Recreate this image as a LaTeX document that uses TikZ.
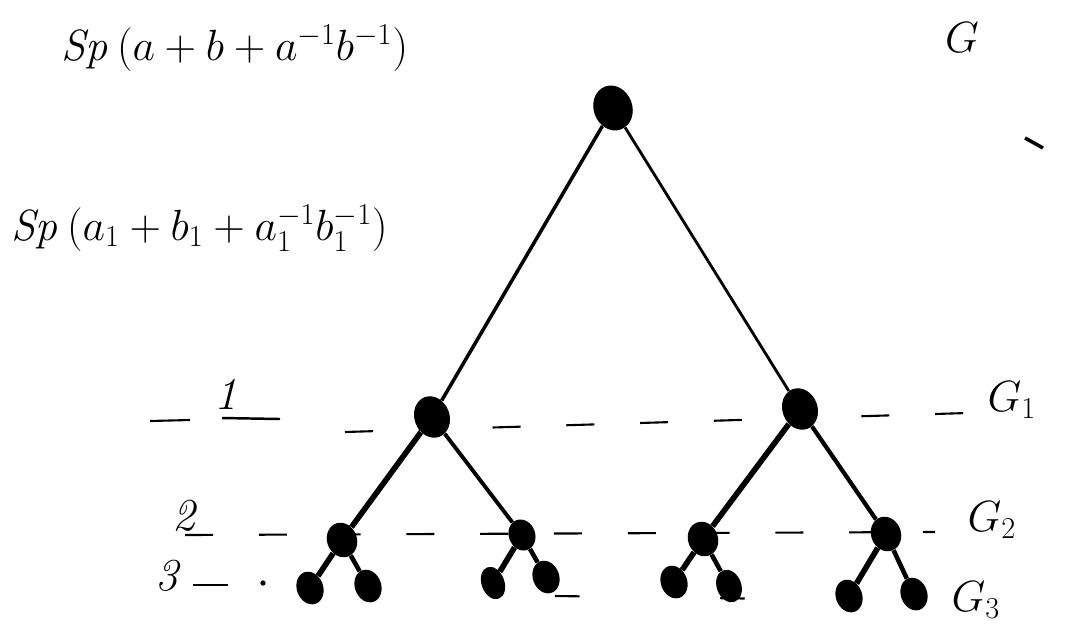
\documentclass[tikz,border=0pt]{standalone}
\usetikzlibrary{shapes.geometric}
\begin{document}
\begin{tikzpicture}[x=0.02cm,y=-0.02cm,
  vert/.style={ellipse,fill=black,inner sep=0pt,minimum width=20pt,minimum height=24pt,rotate=20},
  leaf/.style={ellipse,fill=black,inner sep=0pt,minimum width=15pt,minimum height=19pt,rotate=20},
  thinedge/.style={line width=1.6pt},
  thickedge/.style={line width=3.2pt},
  midedge/.style={line width=2.6pt},
  level/.style={line width=1.2pt,dash pattern=on 16pt off 26pt},
  numlab/.style={font=\fontsize{26}{30}\selectfont\itshape},
  glab/.style={font=\fontsize{26}{30}\selectfont}]
\useasboundingbox (0,0) rectangle (1088,630);
% nodes
\node[vert,minimum width=22pt,minimum height=26pt] (r) at (613,108) {};
\node[vert] (a) at (432,417) {};
\node[vert] (b) at (800,409) {};
\node[vert,minimum width=17pt,minimum height=20pt] (aa) at (342,540) {};
\node[vert,minimum width=15pt,minimum height=18pt] (ab) at (522,535) {};
\node[vert,minimum width=17pt,minimum height=20pt] (ba) at (703,539) {};
\node[vert,minimum width=17pt,minimum height=20pt] (bb) at (886,534) {};
\node[leaf] (aaa) at (310,588) {};
\node[leaf] (aab) at (368,586) {};
\node[leaf,minimum width=13pt] (aba) at (493,583) {};
\node[leaf] (abb) at (546,577) {};
\node[leaf] (baa) at (674,582) {};
\node[leaf,minimum width=14pt] (bab) at (729,586) {};
\node[leaf] (bba) at (849,596) {};
\node[leaf] (bbb) at (914,594) {};
% edges
\draw[line width=2pt] (r) -- (a);
\draw[thinedge] (r) -- (b);
\draw[thickedge] (a) -- (aa);
\draw[line width=2.2pt] (a) -- (ab);
\draw[thickedge] (b) -- (ba);
\draw[line width=2.4pt] (b) -- (bb);
\draw[thickedge] (aa) -- (aaa);
\draw[midedge] (aa) -- (aab);
\draw[thickedge] (ab) -- (aba);
\draw[midedge] (ab) -- (abb);
\draw[thickedge] (ba) -- (baa);
\draw[midedge] (ba) -- (bab);
\draw[thickedge] (bb) -- (bba);
\draw[midedge] (bb) -- (bbb);
% level lines
\draw[line width=1.2pt] (150,421) -- (190,420);
\draw[line width=1.4pt] (222,418) -- (280,419);
\draw[level] (345,432) -- (1000,412);
\draw[level] (185,535) -- (935,532);
\draw[line width=1.2pt] (193,585) -- (228,585);
\draw[line width=1.2pt,dash pattern=on 14pt off 80pt] (555,596) -- (860,600);
\fill (263,583) circle (1.5pt);
% left labels
\node[numlab] (n1) at (226,394) {1};
\node[numlab] (n2) at (184,516) {2};
\node[numlab] (n3) at (167,576) {3};
% right labels
\node[glab] (g) at (962,38) {$G$};
\node[glab] (g1) at (1012,400) {$G_1$};
\node[glab] (g2) at (992,520) {$G_2$};
\node[glab] (g3) at (976,600) {$G_3$};
\draw[line width=2pt] (1025,138) -- (1043,148);
% formulas
\node[font=\fontsize{23}{28}\selectfont,anchor=west] (f1) at (55,48) {$\mathit{Sp}\,(a+b+a^{-1}b^{-1})$};
\node[font=\fontsize{25}{30}\selectfont,anchor=west] (f2) at (5,228) {$\mathit{Sp}\,(a_1+b_1+a_1^{-1}b_1^{-1})$};
\end{tikzpicture}
\end{document}
